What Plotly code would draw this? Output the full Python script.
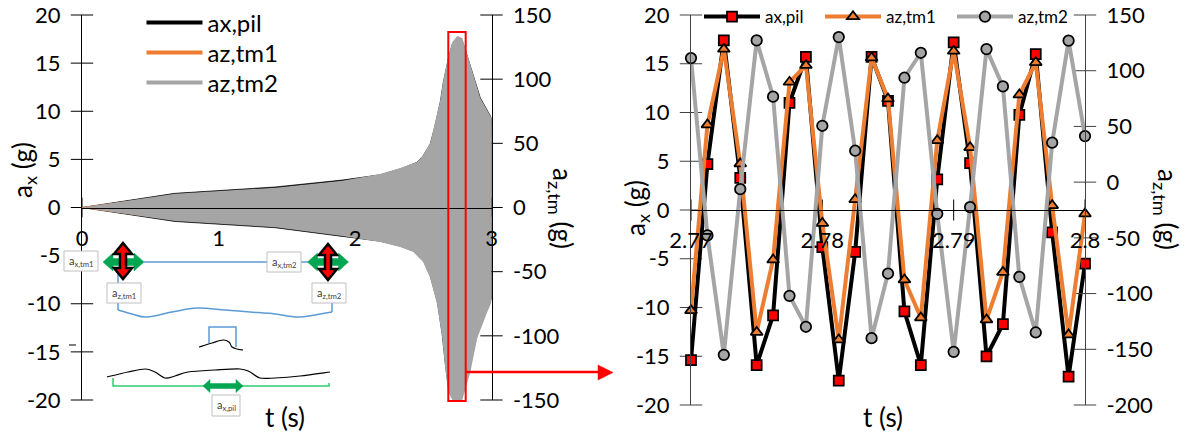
import plotly.graph_objects as go

W, H = 1188, 437
FONT = "Lato"

# ---------- overview series: envelopes ----------
pil_t_up = [0, 0.68, 1.415, 1.906, 2.185, 2.331, 2.456, 2.50, 2.551, 2.588, 2.625, 2.647, 2.683, 2.713, 2.749, 2.786, 2.808, 2.845, 2.918, 3.0]
pil_up = [0, 1.47, 2.13, 2.85, 3.4, 4.0, 4.7, 5.4, 6.6, 8.6, 11.0, 13.0, 15.4, 17.0, 17.5, 17.3, 16.4, 14.8, 11.4, 9.3]
pil_t_lo = [0, 0.68, 1.415, 1.906, 2.185, 2.331, 2.427, 2.50, 2.551, 2.603, 2.639, 2.661, 2.683, 2.713, 2.786, 2.808, 2.845, 2.896, 2.969, 3.0]
pil_lo = [0, -1.45, -2.1, -3.0, -3.5, -4.0, -4.5, -5.5, -7.1, -9.8, -13.2, -16.2, -18.6, -19.2, -19.2, -18.1, -16.5, -13.0, -10.4, -9.5]

tm1_t = [0, 0.68, 1.415, 1.906, 2.185, 2.50, 2.551, 2.588, 2.625, 2.683, 2.713, 2.786, 2.918, 3.0]
tm1_up = [0, 9.5, 14, 19, 24, 34, 42, 55, 70, 100, 120, 125, 75, 62.7]
tm1_lo = [0, -9.5, -14, -20, -25, -36, -46, -60, -80, -120, -140, -140, -85, -10]

tm2_t_up = pil_t_up
tm2_up = [0, 10.8, 15.4, 20.9, 26.1, 30.8, 35.5, 40.9, 50.3, 65.9, 83.8, 99.4, 117.3, 129, 133.7, 132.1, 124.3, 111.1, 85.3, 69.8]
tm2_t_lo = pil_t_lo
tm2_lo = [0, -10.5, -15.4, -22.2, -26.9, -30.8, -34.7, -42.5, -54.9, -76, -101.7, -125.1, -143.8, -150, -150, -140.7, -128.2, -101.7, -81.5, -73.7]

# ---------- zoomed series ----------
t_zoom = [2.77, 2.77125, 2.7725, 2.77375, 2.775, 2.77625, 2.7775, 2.77875, 2.78, 2.78125, 2.7825, 2.78375, 2.785,
          2.78625, 2.7875, 2.78875, 2.79, 2.79125, 2.7925, 2.79375, 2.795, 2.79625, 2.7975, 2.79875, 2.8]
ax_pil = [-15.4, 4.7, 17.4, 3.3, -15.9, -10.8, 11.0, 15.7, -3.8, -17.5, -4.3, 15.7, 11.2,
          -10.4, -15.9, 3.15, 17.2, 4.8, -15.0, -11.7, 9.75, 16.0, -2.3, -17.1, -5.5]
az_tm1 = [-115.2, 51.5, 119.4, 16.5, -134.6, -69.7, 89.8, 104.8, -36.8, -141.5, -15.5, 111.6, 74.8,
          -87.6, -121.7, 37.4, 117.6, 31.1, -123.5, -80.8, 78.4, 107.4, -20.9, -137, -28.4]
az_tm2 = [111.3, -47.8, -155, -6.3, 127.2, 76.7, -102, -129.8, 50.6, 130.2, 28.2, -140, -82,
          93.7, 116.1, -28.4, -152.3, -22.4, 119.4, 85.9, -85, -134.9, 35.4, 127, 41.3]

series_names = ["ax,pil", "az,tm1", "az,tm2"]
left_y_ticks = [-20, -15, -10, -5, 0, 5, 10, 15, 20]
left_y2_ticks = [-150, -100, -50, 0, 50, 100, 150]
left_x_ticks = [0, 1, 2, 3]
right_y2_ticks = [-200, -150, -100, -50, 0, 50, 100, 150]
right_x_ticks = [2.77, 2.78, 2.79, 2.8]
right_x_labels = ["2.77", "2.78", "2.79", "2.8"]

BLACK, ORANGE, GRAY, RED = "#000000", "#ED7D31", "#A5A5A5", "#FF0000"


def px(x):
    return x / W


def py(y):
    return 1 - y / H


def pts(p):
    return " L".join(f"{px(a):.5f},{py(b):.5f}" for a, b in p)


def path(p, close=False):
    return "M" + pts(p) + (" Z" if close else "")


def smooth(p):
    """Catmull-Rom through the sketch's guide points, as a cubic SVG path."""
    d = f"M{px(p[0][0]):.5f},{py(p[0][1]):.5f}"
    for i in range(len(p) - 1):
        a = p[max(i - 1, 0)]
        b, c = p[i], p[i + 1]
        e = p[min(i + 2, len(p) - 1)]
        c1 = (b[0] + (c[0] - a[0]) / 6, b[1] + (c[1] - a[1]) / 6)
        c2 = (c[0] - (e[0] - b[0]) / 6, c[1] - (e[1] - b[1]) / 6)
        d += f" C{px(c1[0]):.5f},{py(c1[1]):.5f} {px(c2[0]):.5f},{py(c2[1]):.5f} {px(c[0]):.5f},{py(c[1]):.5f}"
    return d


shapes = []


def add_path(p, close=False, color="black", width=1, fill=None):
    shapes.append(dict(type="path", xref="paper", yref="paper", path=path(p, close),
                       line=dict(color=color, width=width),
                       fillcolor=fill if fill else "rgba(0,0,0,0)"))


def add_curve(p, color="black", width=1):
    shapes.append(dict(type="path", xref="paper", yref="paper", path=smooth(p),
                       line=dict(color=color, width=width), fillcolor="rgba(0,0,0,0)"))


def harrow(cx, cy, hl=20.5, head=10, hh=9, sh=3.5, fill="#00A651"):
    add_path([(cx - hl, cy), (cx - hl + head, cy - hh), (cx - hl + head, cy - sh), (cx + hl - head, cy - sh),
              (cx + hl - head, cy - hh), (cx + hl, cy), (cx + hl - head, cy + hh), (cx + hl - head, cy + sh),
              (cx - hl + head, cy + sh), (cx - hl + head, cy + hh)], True, color=fill, width=0.5, fill=fill)


def varrow(cx, cy, hl=18, head=11, hw=9, sw=3):
    add_path([(cx, cy - hl), (cx + hw, cy - hl + head), (cx + sw, cy - hl + head), (cx + sw, cy + hl - head),
              (cx + hw, cy + hl - head), (cx, cy + hl), (cx - hw, cy + hl - head), (cx - sw, cy + hl - head),
              (cx - sw, cy - hl + head), (cx - hw, cy - hl + head)], True, color="black", width=2.5, fill=RED)


BLUE = "#5B9BD5"
GREEN = "#2ECC71"
# wiring of the inset sketch
add_path([(144, 262), (267, 262)], color=BLUE, width=1.5)
add_path([(301, 262), (308, 262)], color=BLUE, width=1.5)
add_path([(118, 273), (118, 310)], color=BLUE, width=1.5)
add_curve([(118, 310), (132, 314), (147, 317), (172, 312), (197, 308), (225, 310), (250, 312),
           (275, 314), (297, 317), (315, 315), (332, 312)], color=BLUE, width=1.5)
add_path([(332, 312), (332, 300)], color=BLUE, width=1.5)
add_path([(209, 343), (209, 327), (236, 327), (236, 347)], color=BLUE, width=1.5)
add_curve([(199, 347), (212, 343), (223, 340), (229, 342), (232, 347), (237, 349), (243, 350)], color="black", width=1.2)
add_curve([(107, 377), (128, 372), (145, 369), (155, 372), (165, 378), (175, 376), (188, 372), (215, 370), (240, 369),
           (250, 372), (260, 378), (275, 378), (300, 376), (330, 372)], color="black", width=1.2)
add_path([(113, 378), (113, 386), (329, 386), (329, 383)], color=GREEN, width=1.5)
add_path([(69, 345), (76, 345)], color="black", width=1)
harrow(123.5, 262)
harrow(328, 262)
harrow(223, 386, hl=20, head=7, hh=6.5, sh=2.5)
varrow(123, 261)
varrow(328, 262)

sketch_boxes = [
    (64, 251, 98, 271, "a<sub>x,tm1</sub>"),
    (267, 252, 301, 272, "a<sub>x,tm2</sub>"),
    (107, 283, 141, 303, "a<sub>z,tm1</sub>"),
    (312, 283, 346, 303, "a<sub>z,tm2</sub>"),
    (212, 395, 240, 416, "a<sub>x,pil</sub>"),
]
annotations = []
for x0, y0, x1, y1, label_text in sketch_boxes:
    shapes.append(dict(type="rect", xref="paper", yref="paper", x0=px(x0), x1=px(x1), y0=py(y0), y1=py(y1),
                       line=dict(color="#BFBFBF", width=1), fillcolor="white"))
    annotations.append(dict(xref="paper", yref="paper", x=px((x0 + x1) / 2), y=py((y0 + y1) / 2), showarrow=False,
                            text=label_text, font=dict(family=FONT, size=11, color="#404040"),
                            xanchor="center", yanchor="middle"))

# selection box and pointer
shapes.append(dict(type="rect", xref="paper", yref="paper", x0=px(448.3), x1=px(465.7), y0=py(32), y1=py(401),
                   line=dict(color=RED, width=2), fillcolor="rgba(0,0,0,0)"))
add_path([(466, 372), (600, 372)], color=RED, width=2.5)
add_path([(598, 365), (613, 372.5), (598, 380)], True, color=RED, width=0.5, fill=RED)


def label(x, y, text, size=26, angle=0):
    annotations.append(dict(xref="paper", yref="paper", x=px(x), y=py(y), showarrow=False, text=text,
                            textangle=angle, xanchor="center", yanchor="middle",
                            font=dict(family=FONT, size=size, color="black")))


label(23, 170, "a<sub>x</sub> (g)", angle=-90)
label(562, 208, "a<sub>z,tm</sub> (g)", angle=90)
label(285, 417, "t (s)")
label(636, 208, "a<sub>x</sub> (g)", angle=-90)
label(1167, 209, "a<sub>z,tm</sub> (g)", angle=90)
label(883, 417, "t (s)")

fig = go.Figure()


def poly(t_up, up, t_lo, lo):
    return list(t_up) + list(t_lo)[::-1], list(up) + list(lo)[::-1]


# tick crosses for the axes are markers so that they straddle the lines
def ticks(x, y, xa, ya, sym, size, color):
    fig.add_trace(go.Scatter(x=x, y=y, xaxis=xa, yaxis=ya, mode="markers", showlegend=False, hoverinfo="skip",
                             cliponaxis=False,
                             marker=dict(symbol=sym, size=size, color=color, line=dict(color=color, width=1))))


ticks([0] * len(left_y_ticks), left_y_ticks, "x", "y", "line-ew", 16, "black")
ticks([3] * len(left_y2_ticks), left_y2_ticks, "x", "y2", "line-ew", 16, "black")
ticks(left_x_ticks, [0] * 4, "x", "y", "line-ns", 14, "black")

# left overview
x1, y1 = poly(pil_t_up, pil_up, pil_t_lo, pil_lo)
fig.add_trace(go.Scatter(x=x1, y=y1, xaxis="x", yaxis="y", mode="lines", fill="toself", fillcolor=BLACK,
                         line=dict(color=BLACK, width=0.7), showlegend=False, hoverinfo="skip"))
x2, y2 = poly(tm1_t, tm1_up, tm1_t, tm1_lo)
fig.add_trace(go.Scatter(x=x2, y=y2, xaxis="x", yaxis="y2", mode="lines", fill="toself", fillcolor=ORANGE,
                         cliponaxis=False, line=dict(color=ORANGE, width=1), showlegend=False, hoverinfo="skip"))
x3, y3 = poly(tm2_t_up, tm2_up, tm2_t_lo, tm2_lo)
fig.add_trace(go.Scatter(x=x3, y=y3, xaxis="x", yaxis="y2", mode="lines", fill="toself", fillcolor=GRAY,
                         line=dict(color=GRAY, width=0), showlegend=False, hoverinfo="skip"))
for name, col, ya, leg in zip(series_names, [BLACK, ORANGE, GRAY], ["y", "y2", "y2"], ["legend", "legend5", "legend6"]):
    fig.add_trace(go.Scatter(x=[None], y=[None], xaxis="x", yaxis=ya, mode="lines", name=name, legend=leg,
                             line=dict(color=col, width=4)))

# right detail
ticks([2.77] * len(left_y_ticks), left_y_ticks, "x2", "y3", "line-ew", 16, "#404040")
ticks([2.8] * len(right_y2_ticks), right_y2_ticks, "x2", "y4", "line-ew", 16, "#404040")
ticks(right_x_ticks, [0] * 4, "x2", "y3", "line-ns", 15, "black")

fig.add_trace(go.Scatter(x=t_zoom, y=ax_pil, xaxis="x2", yaxis="y3", mode="lines+markers", name=series_names[0],
                         legend="legend2", cliponaxis=False, line=dict(color=BLACK, width=4),
                         marker=dict(symbol="square", size=10, color=RED, line=dict(color=BLACK, width=1.75))))
fig.add_trace(go.Scatter(x=t_zoom, y=az_tm1, xaxis="x2", yaxis="y4", mode="lines+markers", name=series_names[1],
                         legend="legend3", cliponaxis=False, line=dict(color=ORANGE, width=4),
                         marker=dict(symbol="triangle-up", size=10.5, color=ORANGE, line=dict(color=BLACK, width=1.75))))
fig.add_trace(go.Scatter(x=t_zoom, y=az_tm2, xaxis="x2", yaxis="y4", mode="lines+markers", name=series_names[2],
                         legend="legend4", cliponaxis=False, line=dict(color=GRAY, width=4),
                         marker=dict(symbol="circle", size=10.5, color=GRAY, line=dict(color=BLACK, width=1.75))))

tf = dict(family=FONT, size=22, color="black")
common_y = dict(showgrid=False, zeroline=False, showline=True, linewidth=1, ticks="", tickfont=tf,
                ticklabelstandoff=16, automargin=False)
common_x = dict(showgrid=False, zeroline=False, showline=True, linewidth=1, ticks="", tickfont=tf,
                ticklabelstandoff=11, anchor="free", ticklabelposition="outside", automargin=False)


def labels(vals):
    return [str(v) for v in vals]  # plain hyphen-minus, as in the reference


def one_legend(x, y, size, width):
    return dict(x=px(x), y=py(y), xanchor="left", yanchor="middle", bgcolor="rgba(0,0,0,0)", itemwidth=width,
                font=dict(family=FONT, size=size, color="black"))


fig.update_layout(
    width=W, height=H, autosize=False, margin=dict(l=0, r=0, t=0, b=0, autoexpand=False),
    paper_bgcolor="white", plot_bgcolor="rgba(0,0,0,0)", hovermode=False,
    xaxis=dict(common_x, domain=[px(82), px(491.5)], range=[0, 3], tickvals=left_x_ticks, position=py(207.5),
               linecolor="black"),
    yaxis=dict(common_y, domain=[py(400), py(15)], range=[-20, 20], tickvals=left_y_ticks,
               ticktext=labels(left_y_ticks), anchor="x", side="left", linecolor="black"),
    yaxis2=dict(common_y, domain=[py(400), py(15)], range=[-150, 150], tickvals=left_y2_ticks,
                ticktext=labels(left_y2_ticks), anchor="x", side="right", overlaying="y", linecolor="black"),
    xaxis2=dict(common_x, domain=[px(691), px(1085)], range=[2.77, 2.8], tickvals=right_x_ticks,
                ticktext=right_x_labels, position=py(210), linecolor="black"),
    yaxis3=dict(common_y, domain=[py(405), py(15)], range=[-20, 20], tickvals=left_y_ticks,
                ticktext=labels(left_y_ticks), anchor="x2", side="left", linecolor="#404040"),
    yaxis4=dict(common_y, domain=[py(405), py(15)], range=[-200, 150], tickvals=right_y2_ticks,
                ticktext=labels(right_y2_ticks), anchor="x2", side="right", overlaying="y3", linecolor="#404040"),
    legend=one_legend(141.5, 23, 24, 56), legend5=one_legend(141.5, 53, 24, 56), legend6=one_legend(141.5, 83, 24, 56),
    legend2=one_legend(699, 17, 17, 56), legend3=one_legend(820, 17, 17, 56), legend4=one_legend(952, 17, 17, 56),
    shapes=shapes, annotations=annotations,
)

fig.write_html("out.html", post_script="document.body.style.margin='0';", config=dict(displayModeBar=False))
